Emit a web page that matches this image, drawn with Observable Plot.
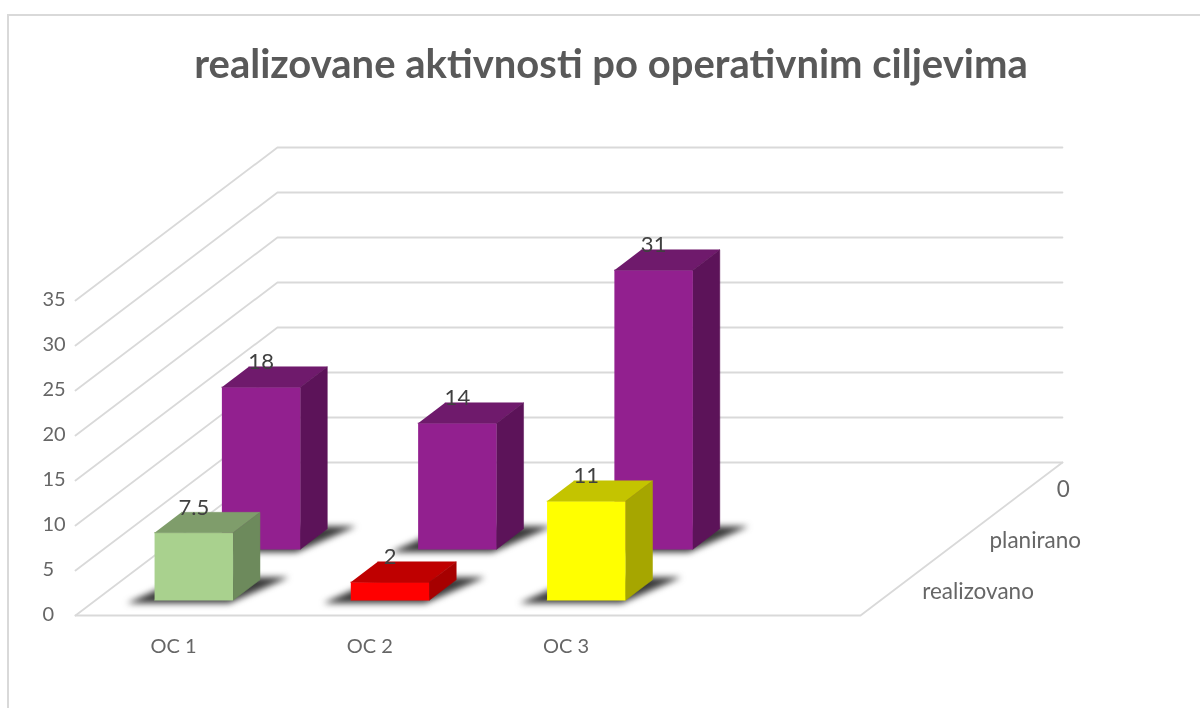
<!DOCTYPE html>
<html>
<head>
<meta charset="utf-8">
<script src="https://cdn.jsdelivr.net/npm/d3@7"></script>
<script src="https://cdn.jsdelivr.net/npm/@observablehq/plot@0.6"></script>
<style>
  html, body { margin: 0; padding: 0; background: #fff; overflow: hidden; }
  #chart { position: relative; width: 1200px; height: 708px; filter: blur(0.45px); }
  #frame { position: absolute; left: 7px; top: 14px; width: 1240px; height: 800px; border: 2px solid #d9d9d9; box-sizing: border-box; }
  #title { position: absolute; left: 0; width: 1222px; top: 39px; text-align: center; font: bold 40px Lato, sans-serif; color: #595959; line-height: 48px; white-space: nowrap; }
  #chart svg { position: absolute; left: 0; top: 0; background: transparent; }
</style>
</head>
<body>
<div id="chart"><div id="frame"></div><div id="title">realizovane aktivnosti po operativnim ciljevima</div></div>
<script>
const categories = ["OC 1", "OC 2", "OC 3"];
const depthLabels = ["realizovano", "planirano", "0"];
const realizovano = [7.5, 2, 11];
const planirano = [18, 14, 31];
const yTicks = [0, 5, 10, 15, 20, 25, 30, 35];
const realizovanoColors = [
  {front: "#a9d18e", top: "#7f9d6b", side: "#6d8a5c"},
  {front: "#ff0000", top: "#bf0000", side: "#a60000"},
  {front: "#ffff00", top: "#c4c400", side: "#a6a600"}
];
const planiranoColor = {front: "#92208f", top: "#6f1a6c", side: "#5c1359"};

// oblique projection: category u, value v, depth row d -> plot data space
const kx = 0.343, ky = 5.667, slots = 4, rows = 3;
const P = (u, v, d) => ({x: u + d * kx, y: v + d * ky});
const gap = 0.3;

function barFaces(i, value, row, c) {
  const u0 = i + gap, u1 = i + 1 - gap, d0 = row + gap, d1 = row + 1 - gap;
  const face = (name, fill, pts) => pts.map(p => ({...p, id: `${row}-${i}-${name}`, fill}));
  return [
    ...face("front", c.front, [P(u0, 0, d0), P(u1, 0, d0), P(u1, value, d0), P(u0, value, d0)]),
    ...face("top", c.top, [P(u0, value, d0), P(u1, value, d0), P(u1, value, d1), P(u0, value, d1)]),
    ...face("side", c.side, [P(u1, 0, d0), P(u1, 0, d1), P(u1, value, d1), P(u1, value, d0)])
  ];
}
function shadow(i, row) {
  const id = `${row}-${i}`;
  return [P(i + 0.18, 0, row + 0.24), P(i + 0.7, 0, row + 0.24), P(i + 0.83, 0, row + 0.75), P(i + 0.3, 0, row + 0.75)]
    .map(p => ({...p, id}));
}
const rowBars = (values, row, colorOf) => values.flatMap((v, i) => barFaces(i, v, row, colorOf(i)));
const rowShadows = (values, row) => values.flatMap((v, i) => shadow(i, row));
const labelsOf = (values, row) => values.map((v, i) => ({...P(i + 0.5, v, row + gap), text: String(v)}));

const grid = yTicks.flatMap(v =>
  [P(0, v, 0), P(0, v, rows), P(slots, v, rows)].map(p => ({...p, id: v})));
const floor = [P(0, 0, 0), P(slots, 0, 0), P(slots, 0, rows)];
const depthText = depthLabels.map((t, r) => ({...P(slots, 0, r + 0.5), text: t}));

const shadowOpts = {x: "x", y: "y", z: "id", fill: "#3a3a3a", stroke: "none", imageFilter: "blur(3px)"};
const faceOpts = {x: "x", y: "y", z: "id", fill: "fill", stroke: "fill", strokeWidth: 0.5};
const valueText = {x: "x", y: "y", text: "text", dy: -25, fontSize: 22, fill: "#404040"};

const plot = Plot.plot({
  width: 1200, height: 708,
  marginLeft: 75, marginRight: 340, marginTop: 300, marginBottom: 93,
  style: {fontFamily: "Lato, sans-serif", background: "transparent", overflow: "visible"},
  x: {domain: [0, slots], label: null},
  y: {domain: [0, 35], label: null},
  color: {type: "identity"},
  marks: [
    Plot.line(grid, {x: "x", y: "y", z: "id", stroke: "#d9d9d9", strokeWidth: 1.8}),
    Plot.line(floor, {x: "x", y: "y", stroke: "#d9d9d9", strokeWidth: 1.8}),
    Plot.axisY({ticks: yTicks, tickSize: 0, textAnchor: "start", dx: -24, dy: -1, fontSize: 20, fill: "#666", label: null}),
    Plot.axisX({ticks: categories.map((c, i) => i + 0.5), tickFormat: u => categories[Math.floor(u)],
      tickSize: 0, tickPadding: 23, fontSize: 20, fill: "#666", label: null}),
    Plot.line(rowShadows(planirano, 1), shadowOpts),
    Plot.line(rowBars(planirano, 1, () => planiranoColor), faceOpts),
    Plot.line(rowShadows(realizovano, 0), shadowOpts),
    Plot.line(rowBars(realizovano, 0, i => realizovanoColors[i]), faceOpts),
    Plot.text(labelsOf(planirano, 1), valueText),
    Plot.text(labelsOf(realizovano, 0), valueText),
    Plot.text(depthText, {x: "x", y: "y", text: "text", textAnchor: "start", dx: 28, dy: 1.5, fontSize: 22.5, fill: "#666"})
  ]
});
document.getElementById("chart").appendChild(plot);
</script>
</body>
</html>
